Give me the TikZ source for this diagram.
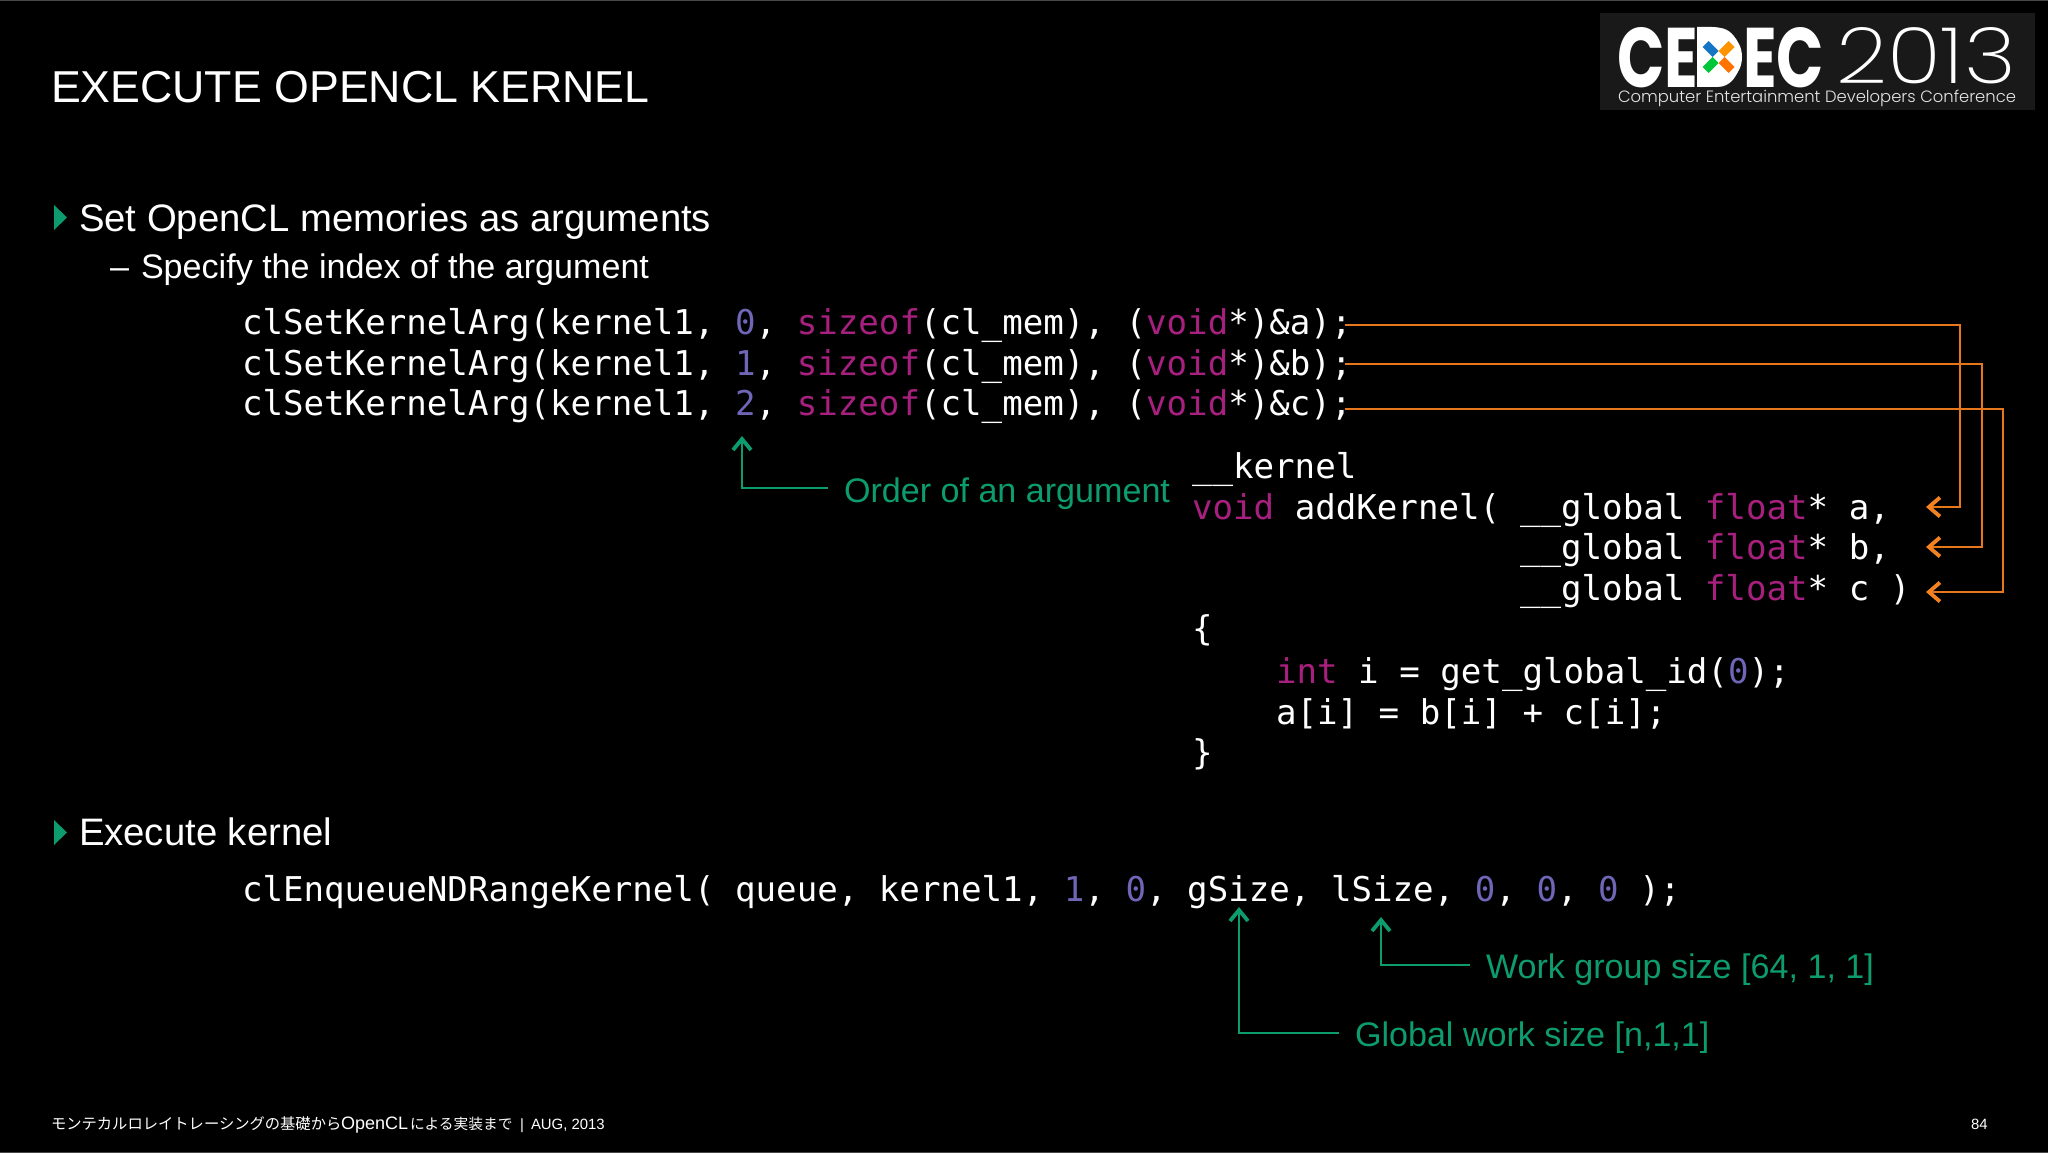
\documentclass[tikz,border=0pt]{standalone}
\usepackage{graphicx}
\usepackage{fontspec}
\usetikzlibrary{arrows.meta}
\setmainfont{Liberation Sans}
\newfontfamily\codef{DejaVu Sans Mono}
\newfontfamily\cjkf{Noto Sans CJK JP}
\newfontfamily\logob{Poppins}[BoldFont=* Bold]
\newfontfamily\logol{Poppins Light}
\newfontfamily\logox{Poppins ExtraLight}
\definecolor{kwc}{HTML}{A8207F}
\definecolor{numc}{HTML}{7066B8}
\definecolor{orc}{HTML}{E8761A}
\definecolor{ortip}{HTML}{F58220}
\definecolor{grc}{HTML}{0D9C6E}
\newcommand\kw[1]{\textcolor{kwc}{#1}}
\newcommand\nm[1]{\textcolor{numc}{#1}}
\tikzset{
  txt/.style={inner sep=0pt,outer sep=0pt,anchor=base west,text=white},
  title/.style={txt,font=\fontsize{44.7}{44.7}\selectfont},
  lvlone/.style={txt,font=\fontsize{38.3}{38.3}\selectfont},
  lvltwo/.style={txt,font=\fontsize{34.1}{34.1}\selectfont},
  codeline/.style={txt,font=\codef\fontsize{34.13}{34.13}\selectfont},
  note/.style={txt,text=grc,font=\fontsize{34.1}{34.1}\selectfont},
  foot/.style={txt,font=\fontsize{14.9}{14.9}\selectfont},
  bullet/.style={fill=grc,draw=none},
  orline/.style={draw=orc,line width=1.8pt,-{Straight Barb[length=11pt,width=19pt,line width=3.8pt,color=ortip]}},
  grline/.style={draw=grc,line width=2.2pt,-{Straight Barb[length=11pt,width=18pt,line width=3.8pt,color=grc]}},
}
\begin{document}
\begin{tikzpicture}[x=1pt,y=-1pt]
\useasboundingbox (0,0) rectangle (2048,1153);
\fill[black] (0,0) rectangle (2048,1153);
\fill[black!72] (0,0) rectangle (2048,1.5);
\fill[black!72] (0,1151.5) rectangle (2048,1153);

% logo
\fill[black!90] (1600,13) rectangle (2035,110);
\node[txt,anchor=north west] (cedec) at (1617,27) {\resizebox{207pt}{60pt}{\logob\bfseries CEDEC}};
\fill[white] (1697,27) -- (1712,27) arc (-90:90:30) -- (1697,87) -- cycle;
\begin{scope}[shift={(1718.5,57)}]
  \fill[cyan!55!blue] (-16,-10) -- (-10,-16) -- (0,-6) -- (-6,0) -- cycle;
  \fill[orange!85!yellow] (16,-10) -- (10,-16) -- (0,-6) -- (6,0) -- cycle;
  \fill[orange!90!red] (16,10) -- (10,16) -- (0,6) -- (6,0) -- cycle;
  \fill[green!55!teal] (-16,10) -- (-10,16) -- (0,6) -- (-6,0) -- cycle;
\end{scope}
\node[txt,anchor=north west] (yr) at (1836,27) {\resizebox{180pt}{56pt}{\logox 2013}};
\node[txt,text=black!10] (cedecsub) at (1618,103) {\resizebox{398pt}{!}{\logol\fontsize{19}{19}\selectfont Computer Entertainment Developers Conference}};

% headings
\node[title] (ttl) at (51,103) {EXECUTE OPENCL KERNEL};
\fill[bullet] (54,205) -- (67,217.5) -- (54,230) -- cycle;
\node[lvlone] (b1) at (79,231) {Set OpenCL memories as arguments};
\node[lvltwo] (b1d) at (110,278) {–};
\node[lvltwo] (b1s) at (141,278) {Specify the index of the argument};
\fill[bullet] (54,820) -- (67,832.5) -- (54,845) -- cycle;
\node[lvlone] (b2) at (79,845) {Execute kernel};

% argument calls
\node[codeline] (ca) at (242,334) {clSetKernelArg(kernel1, \nm{0}, \kw{sizeof}(cl\_mem), (\kw{void}*)\&a);};
\node[codeline] (cb) at (242,375) {clSetKernelArg(kernel1, \nm{1}, \kw{sizeof}(cl\_mem), (\kw{void}*)\&b);};
\node[codeline] (cc) at (242,415) {clSetKernelArg(kernel1, \nm{2}, \kw{sizeof}(cl\_mem), (\kw{void}*)\&c);};

% kernel source
\node[codeline] (k0) at (1192,478) {\_\_kernel};
\node[codeline] (k1) at (1192,519) {\kw{void} addKernel(};
\node[codeline] (pa) at (1520,519) {\_\_global \kw{float}* a,};
\node[codeline] (pb) at (1520,559) {\_\_global \kw{float}* b,};
\node[codeline] (pc) at (1520,600) {\_\_global \kw{float}* c )};
\node[codeline] (k4) at (1192,640) {\{};
\node[codeline] (k5) at (1276,683) {\kw{int} i = get\_global\_id(\nm{0});};
\node[codeline] (k6) at (1276,724) {a[i] = b[i] + c[i];};
\node[codeline] (k7) at (1192,764) {\}};

% enqueue
\node[codeline] (enq) at (242,901) {clEnqueueNDRangeKernel( queue, kernel1, \nm{1}, \nm{0}, gSize, lSize, \nm{0}, \nm{0}, \nm{0} );};

% notes
\node[note] (nord) at (844,502) {Order of an argument};
\node[note] (nwg) at (1486,978) {Work group size [64, 1, 1]};
\node[note] (ngl) at (1355,1046) {Global work size [n,1,1]};

% footer
\node[foot,font=\cjkf\fontsize{15.3}{15.3}\selectfont] (fta) at (51,1129) {モンテカルロレイトレーシングの基礎から};
\node[foot,font=\fontsize{18}{18}\selectfont] (ftb) at (341,1129) {OpenCL};
\node[foot,font=\cjkf\fontsize{14.7}{14.7}\selectfont] (ftc) at (410,1129) {による実装まで};
\node[foot] (ftd) at (520,1129) {|};
\node[foot] (fte) at (531,1129) {AUG, 2013};
\node[foot] (pg) at (1971,1129) {84};

% connectors
\coordinate (sa) at (1345,325); \coordinate (ma) at (1960,325); \coordinate (na) at (1960,507); \coordinate (ta) at (1926,507);
\coordinate (sb) at (1345,364); \coordinate (mb) at (1982,364); \coordinate (nb) at (1982,547); \coordinate (tb) at (1926,547);
\coordinate (sc) at (1345,409); \coordinate (mc) at (2003,409); \coordinate (nc) at (2003,592); \coordinate (tc) at (1926,592);
\draw[orline] (sa) -- (ma) -- (na) -- (ta);
\draw[orline] (sb) -- (mb) -- (nb) -- (tb);
\draw[orline] (sc) -- (mc) -- (nc) -- (tc);

\coordinate (ge1) at (828,488); \coordinate (gc1) at (742,488); \coordinate (gt1) at (742,436);
\coordinate (ge2) at (1470,965); \coordinate (gc2) at (1381,965); \coordinate (gt2) at (1381,917);
\coordinate (ge3) at (1339,1033); \coordinate (gc3) at (1239,1033); \coordinate (gt3) at (1239,907);
\draw[grline] (ge1) -- (gc1) -- (gt1);
\draw[grline] (ge2) -- (gc2) -- (gt2);
\draw[grline] (ge3) -- (gc3) -- (gt3);
\end{tikzpicture}
\end{document}
